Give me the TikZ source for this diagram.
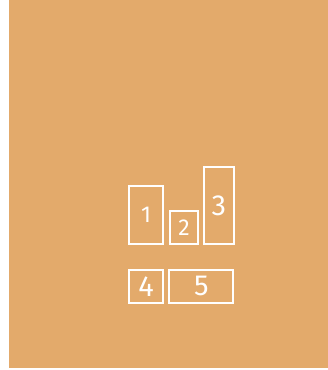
\documentclass[tikz,border=0pt]{standalone}
\usepackage{fontspec}
\setsansfont{Fira Sans}
\usetikzlibrary{positioning}
\definecolor{sandbg}{HTML}{E3AA6B}
\definecolor{cellline}{HTML}{FFFFFF}

\begin{document}
\begin{tikzpicture}[
    x=1pt, y=-1pt,
    every node/.style={font=\sffamily},
    cell/.style={
        draw=cellline,
        line width=1.8pt,
        inner sep=0pt,
        text=cellline,
        minimum width=#1,
    },
    small/.style={font=\sffamily\fontsize{23}{23}\selectfont},
    large/.style={font=\sffamily\fontsize{29}{29}\selectfont},
]

% Frame
\useasboundingbox (0,0) rectangle (328,370);
\fill[sandbg] (9,0) rectangle (328,367.5);

% Top row
\node[cell=34.3pt,minimum height=58.3pt,small] (one) at (146.2,215.2) {1};
\node[cell=28.6pt,minimum height=33pt,small] (two) at (184,227.5) {2};
\node[cell=29.7pt,minimum height=76.7pt,large] (three) at (218.8,205.7) {3};

% Bottom row
\node[cell=34pt,minimum height=32.7pt,large] (four) at (146,286.3) {4};
\node[cell=64pt,minimum height=32.7pt,large] (five) at (201.3,286.3) {5};

\end{tikzpicture}
\end{document}
